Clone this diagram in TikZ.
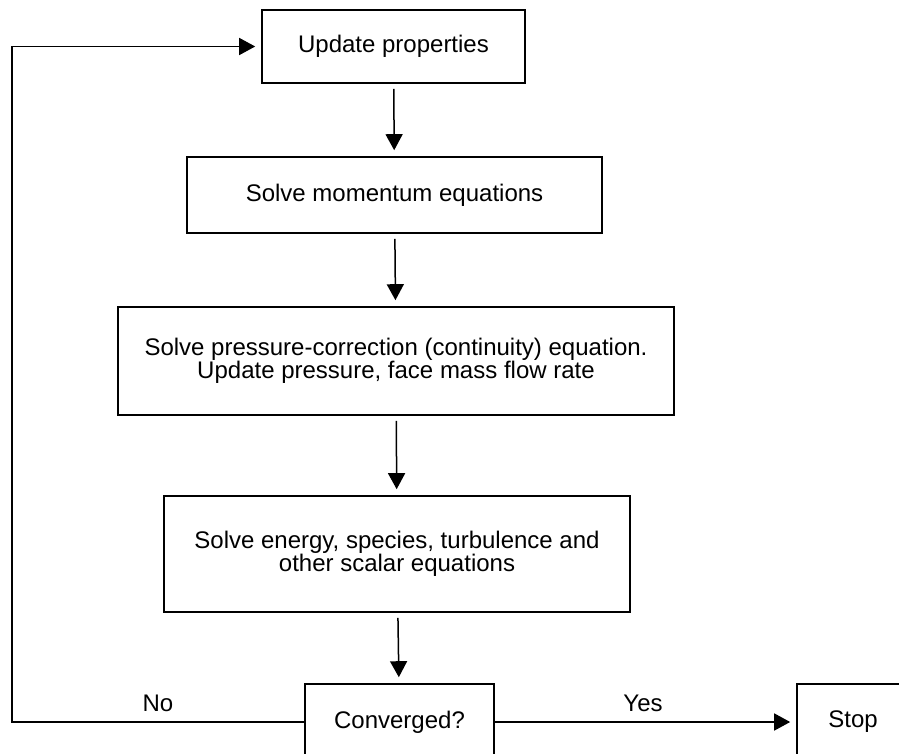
\documentclass[tikz,border=0pt]{standalone}
\usepackage{fontspec}
\setmainfont{Liberation Sans}
\usetikzlibrary{arrows.meta,calc}
\tikzset{procbox/.style={draw,line width=1.6pt,inner sep=0pt,align=center,font=\fontsize{24}{21.5}\selectfont},flowline/.style={line width=1.5pt,-{Triangle[length=16pt,width=17pt]},shorten <=5pt,shorten >=6pt},branchlabel/.style={font=\fontsize{24}{21.5}\selectfont}}

\begin{document}
\begin{tikzpicture}[x=1pt,y=-1pt]
\clip (0,0) rectangle (899,754);
\node[procbox,minimum width=263pt,minimum height=73pt] (upd) at (393.5,46.5) {Update properties};
\node[procbox,minimum width=415pt,minimum height=76pt] (mom) at (394.5,195) {Solve momentum equations};
\node[procbox,minimum width=556pt,minimum height=108pt] (prs) at (396,361) {Solve pressure-correction (continuity) equation.\\Update pressure, face mass flow rate};
\node[procbox,minimum width=466pt,minimum height=116pt] (eng) at (397,554) {Solve energy, species, turbulence and\\other scalar equations};
\node[procbox,minimum width=189pt,minimum height=76pt] (conv) at (399.5,722) {Converged?};
\node[procbox,minimum width=112pt,minimum height=76pt] (stop) at (853,722) {Stop};
\coordinate (bend) at (12,0);
\draw[flowline] (upd) -- (mom);
\draw[flowline] (mom) -- (prs);
\draw[flowline] (prs) -- (eng);
\draw[flowline] (eng) -- (conv);
\draw[flowline,shorten <=0pt] (conv.east) -- (stop.west);
\draw[flowline,shorten <=0pt] (conv.west) -- (conv.west -| bend) |- (upd.west);
\node[branchlabel] (no) at (158,703) {No};
\node[branchlabel] (yes) at (643,703) {Yes};
\end{tikzpicture}
\end{document}
